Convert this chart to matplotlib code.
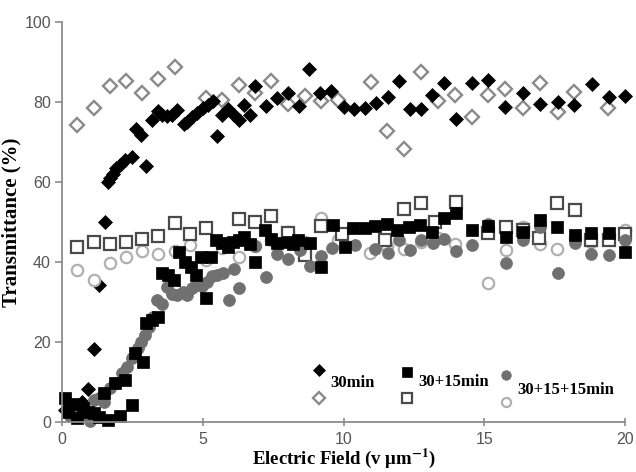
import matplotlib
matplotlib.use("Agg")
import matplotlib.pyplot as plt
from matplotlib.lines import Line2D

plt.rcParams["mathtext.fontset"] = "stix"

# ---- 30 min (filled = field on, open = field off) ----
d30_x = [0.1, 0.3, 0.5, 0.7, 0.93, 1.13, 1.32, 1.51, 1.62, 1.72, 1.82, 1.93, 2.07, 2.25,
         2.49, 2.64, 2.82, 3.0, 3.2, 3.4, 3.56, 3.74, 3.92, 4.1, 4.33, 4.45, 4.63, 4.81,
         4.99, 5.17, 5.36, 5.5, 5.69, 5.88, 6.1, 6.3, 6.48, 6.69, 6.86, 7.24, 7.64, 8.02,
         8.4, 8.76, 9.17, 9.57, 10.0, 10.36, 10.76, 11.14, 11.57, 11.98, 12.36, 12.74,
         13.14, 13.56, 13.98, 14.55, 15.14, 15.74, 16.36, 16.97, 17.6, 18.19, 18.81,
         19.43, 20.0]
d30_y = [3.0, 4.5, 2.5, 5.0, 8.2, 18.3, 34.3, 50.0, 60.0, 61.0, 62.0, 63.5, 64.3, 65.5,
         66.2, 73.2, 71.8, 64.1, 75.5, 77.8, 76.8, 76.5, 76.8, 78.0, 74.4, 75.1, 76.3, 77.2,
         78.4, 79.3, 80.3, 71.6, 76.8, 78.2, 76.8, 75.5, 79.3, 76.8, 84.1, 79.1, 80.9, 82.2,
         79.1, 88.2, 82.3, 82.8, 78.7, 78.2, 78.4, 79.7, 81.2, 85.2, 78.2, 78.2,
         81.8, 84.7, 75.8, 84.7, 85.5, 78.7, 82.2, 79.5, 80.1, 79.3, 84.5,
         81.3, 81.5]
o30_x = [0.55, 1.12, 1.69, 2.26, 2.83, 3.4, 4.0, 5.1, 5.69, 6.29, 6.86, 7.43, 8.02, 8.62,
         9.19, 9.79, 10.98, 11.55, 12.14, 12.74, 13.36, 13.95, 14.55, 15.14, 15.74, 16.36,
         16.97, 17.6, 18.19, 19.4]
o30_y = [74.2, 78.4, 84.1, 85.2, 82.3, 85.8, 88.7, 80.9, 80.4, 84.2, 82.3, 85.2, 79.4, 81.5,
         80.2, 80.4, 84.9, 72.8, 68.2, 87.6, 80.2, 81.8, 76.3, 81.8, 83.3, 78.4,
         84.8, 77.5, 82.6, 78.4]

# ---- 30+15 min ----
d45_x = [0.1, 0.23, 0.4, 0.52, 0.75, 0.94, 1.12, 1.3, 1.48, 1.65, 1.89, 2.07, 2.25, 2.49,
         2.6, 2.87, 3.0, 3.2, 3.4, 3.56, 3.76, 3.97, 4.15, 4.36, 4.57, 4.75, 4.93, 5.12,
         5.29, 5.46, 5.67, 5.88, 6.08, 6.3, 6.48, 6.66, 6.86, 7.21, 7.43, 7.64, 8.02, 8.2,
         8.38, 8.8, 9.19, 9.63, 10.05, 10.35, 10.76, 11.1, 11.54, 11.9, 12.31, 12.73,
         13.14, 13.56, 13.98, 14.55, 15.14, 15.76, 16.36, 16.97, 17.58, 18.2, 18.8,
         19.43, 20.0]
d45_y = [6.0, 2.6, 4.5, 1.0, 3.5, 2.6, 2.2, 1.3, 7.2, 0.5, 9.7, 1.5, 10.5, 4.25,
         17.2, 15.1, 24.7, 25.5, 26.2, 37.2, 36.75, 35.5, 42.6, 40.1, 38.8, 36.75, 41.3, 30.9,
         41.3, 45.5, 44.8, 43.8, 45.0, 45.5, 46.2, 44.5, 40.1, 48.0, 45.7, 44.8, 45.1, 44.6,
         45.4, 44.7, 38.8, 49.25, 43.8, 48.4, 48.4, 48.9, 49.6, 48.0, 48.8, 49.2,
         47.6, 50.9, 52.2, 48.0, 48.9, 46.3, 47.6, 50.5, 48.8, 46.75, 47.2,
         47.2, 42.6]
o45_x = [0.55, 1.12, 1.69, 2.26, 2.83, 3.4, 4.0, 4.55, 5.12, 6.29, 6.86, 7.43, 8.02, 8.62,
         9.19, 9.93, 11.48, 12.13, 12.75, 13.26, 13.98, 15.14, 15.76, 16.36, 16.95, 17.58,
         18.2, 18.8, 19.43, 20.0]
o45_y = [43.7, 45.1, 44.4, 44.9, 45.75, 46.5, 49.7, 46.9, 48.4, 50.75, 50.1, 51.6, 47.2, 41.75,
         49.0, 47.0, 45.5, 53.2, 54.8, 50.1, 55.0, 47.2, 48.8, 48.0, 46.0, 54.7,
         53.0, 45.5, 45.5, 47.0]

# ---- 30+15+15 min ----
d60_x = [0.3, 0.55, 0.8, 1.0, 1.12, 1.3, 1.5, 1.71, 1.9, 2.13, 2.31, 2.5, 2.69, 2.82, 2.96,
         3.08, 3.24, 3.38, 3.56, 3.74, 3.92, 4.1, 4.28, 4.44, 4.6, 4.8, 4.98, 5.16, 5.34,
         5.52, 5.7, 5.92, 6.1, 6.3, 6.86, 7.25, 7.64, 8.02, 8.44, 8.8, 9.19, 9.6, 10.4,
         11.1, 11.57, 11.95, 12.37, 12.76, 13.17, 13.56, 13.98, 14.55, 15.14, 15.76,
         16.36, 16.97, 17.6, 18.2, 18.8, 19.43, 20.0]
d60_y = [1.5, 3.0, 2.0, 0.3, 5.5, 6.0, 5.0, 8.4, 9.8, 12.2, 13.8, 16.0, 18.4, 20.0, 21.75,
         23.8, 26.3, 30.5, 29.5, 33.8, 32.0, 31.8, 32.5, 31.8, 33.4, 34.2, 34.0, 35.0, 36.6,
         36.8, 37.2, 30.5, 38.25, 33.4, 44.0, 36.3, 42.0, 40.75, 43.0, 39.0, 41.5, 43.5, 44.25,
         43.2, 42.2, 45.5, 43.0, 45.5, 44.8, 45.7, 42.8, 44.25, 49.6, 39.8,
         45.5, 48.8, 37.2, 44.7, 42.0, 41.75, 45.6]
o60_x = [0.55, 1.12, 1.69, 2.26, 2.83, 3.4, 4.0, 4.55, 5.12, 5.69, 6.29, 6.86, 7.43, 8.02,
         8.62, 9.19, 9.79, 10.94, 11.55, 12.13, 12.75, 13.36, 13.95, 15.14, 15.76, 16.36,
         16.97, 17.58, 18.2, 18.8, 20.0]
o60_y = [38.0, 35.5, 39.7, 41.3, 42.75, 42.0, 42.8, 44.3, 40.5, 43.5, 41.3, 44.0, 45.5, 47.6,
         45.0, 50.9, 45.5, 42.3, 44.0, 43.2, 45.0, 46.0, 44.5, 34.7, 43.0, 48.8,
         44.6, 43.3, 46.0, 45.0, 48.0]

x_ticks = [0, 5, 10, 15, 20]
y_ticks = [0, 20, 40, 60, 80, 100]

fig = plt.figure(figsize=(6.36, 4.72), dpi=100)
ax = fig.add_axes([0.0975, 0.106, 0.8855, 0.8475])

GRAY_OPEN_D = "#8a8a8a"
GRAY_OPEN_S = "#4a4a4a"
GRAY_OPEN_C = "#b0b0b0"
GRAY_FILL_C = "#707070"

styles = {
    "o30": dict(marker="D", ms=7.4, mfc="white", mec=GRAY_OPEN_D, mew=1.7, ls="none"),
    "d30": dict(marker="D", ms=7.6, mfc="black", mec="black", mew=0.5, ls="none"),
    "o60": dict(marker="o", ms=8.2, mfc="white", mec=GRAY_OPEN_C, mew=1.6, ls="none"),
    "o45": dict(marker="s", ms=8.6, mfc="white", mec=GRAY_OPEN_S, mew=1.6, ls="none"),
    "d60": dict(marker="o", ms=8.6, mfc=GRAY_FILL_C, mec=GRAY_FILL_C, mew=0.5, ls="none"),
    "d45": dict(marker="s", ms=8.6, mfc="black", mec="black", mew=0.5, ls="none"),
}

ax.plot(o30_x, o30_y, **styles["o30"], clip_on=False)
ax.plot(d30_x, d30_y, **styles["d30"], clip_on=False)
ax.plot(o60_x, o60_y, **styles["o60"], clip_on=False)
ax.plot(o45_x, o45_y, **styles["o45"], clip_on=False)
ax.plot(d60_x, d60_y, **styles["d60"], clip_on=False)
ax.plot(d45_x, d45_y, **styles["d45"], clip_on=False)

ax.set_xlim(0, 20)
ax.set_ylim(0, 100)
ax.set_xticks(x_ticks)
ax.set_yticks(y_ticks)

for s in ["top", "right"]:
    ax.spines[s].set_visible(False)
for s in ["left", "bottom"]:
    ax.spines[s].set_color("#8c8c8c")
    ax.spines[s].set_linewidth(1.3)

ax.tick_params(axis="both", colors="#8c8c8c", labelcolor="#555555", width=1.2)
ax.tick_params(axis="y", direction="out", length=5, pad=3)
ax.tick_params(axis="x", direction="inout", length=6, pad=4)
for lab in ax.get_xticklabels() + ax.get_yticklabels():
    lab.set_fontfamily("Liberation Sans")
    lab.set_fontsize(11.5)

ax.set_ylabel("Transmittance (%)", fontfamily="Liberation Serif", fontweight="bold",
              fontsize=15, labelpad=2)
ax.set_xlabel(r"Electric Field (v μm$^{\mathbf{-1}}$)", fontfamily="Liberation Serif",
              fontweight="bold", fontsize=13.5, labelpad=0)

# legend: filled marker above, open marker below, series name beside
legend_items = [
    # name, filled, hollow, marker x, filled y, hollow y, text x, text y
    ("30min", "d30", "o30", 0.4565, 0.130, 0.060, 0.476, 0.0975),
    ("30+15min", "d45", "o45", 0.613, 0.125, 0.060, 0.632, 0.100),
    ("30+15+15min", "d60", "o60", 0.789, 0.1175, 0.050, 0.808, 0.080),
]
for name, filled, hollow, mx, fy, hy, tx, ty in legend_items:
    f = dict(styles[filled]); f["ms"] = f["ms"] * 0.8
    h = dict(styles[hollow]); h["ms"] = h["ms"] * 0.8
    ax.add_line(Line2D([mx], [fy], transform=ax.transAxes, clip_on=False, **f))
    ax.add_line(Line2D([mx], [hy], transform=ax.transAxes, clip_on=False, **h))
    ax.text(tx, ty, name, transform=ax.transAxes, fontfamily="Liberation Serif",
            fontweight="bold", fontsize=12, va="center", ha="left")

fig.savefig("out.png", dpi=100, facecolor="white")
